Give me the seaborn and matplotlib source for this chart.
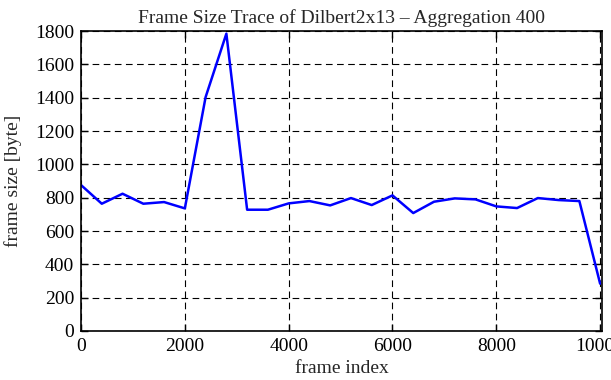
import pandas as pd
import seaborn as sns
import matplotlib.pyplot as plt

# data (one point every 400 frames)
frame_index = [0, 400, 800, 1200, 1600, 2000, 2400, 2800, 3200, 3600, 4000,
               4400, 4800, 5200, 5600, 6000, 6400, 6800, 7200, 7600, 8000,
               8400, 8800, 9200, 9600, 10000]
frame_size = [876, 764, 824, 764, 774, 736, 1404, 1785, 728, 728, 766,
              780, 754, 798, 756, 814, 708, 776, 796, 790, 748,
              738, 798, 786, 780, 284]

df = pd.DataFrame({'frame index': frame_index, 'frame size [byte]': frame_size})

sns.set_style("ticks")
plt.rcParams['font.family'] = ['Liberation Serif', 'DejaVu Serif']

fig = plt.figure(figsize=(6.11, 3.80), dpi=100)
ax = fig.add_axes([0.1326, 0.129, 0.853, 0.789])

sns.lineplot(data=df, x='frame index', y='frame size [byte]', color='#0000ff',
             linewidth=1.8, ax=ax)

ax.set_xlim(0, 10040)
ax.set_ylim(0, 1800)
ax.set_xticks([0, 2000, 4000, 6000, 8000, 10000])
ax.set_yticks(range(0, 1801, 200))
ax.grid(True, color='black', linestyle=(0, (6, 4)), linewidth=0.8)
ax.tick_params(direction='in', top=True, right=True, length=5, width=1,
               labelsize=14, colors='black', pad=5)
for s in ax.spines.values():
    s.set_color('black')
    s.set_linewidth(1.2)

ax.set_xlabel('frame index', fontsize=14, labelpad=4)
ax.set_ylabel('frame size [byte]', fontsize=14, labelpad=9)
ax.set_title('Frame Size Trace of Dilbert2x13 \u2013 Aggregation 400', fontsize=14, pad=6)

plt.savefig('out.png', dpi=100)
plt.close()
